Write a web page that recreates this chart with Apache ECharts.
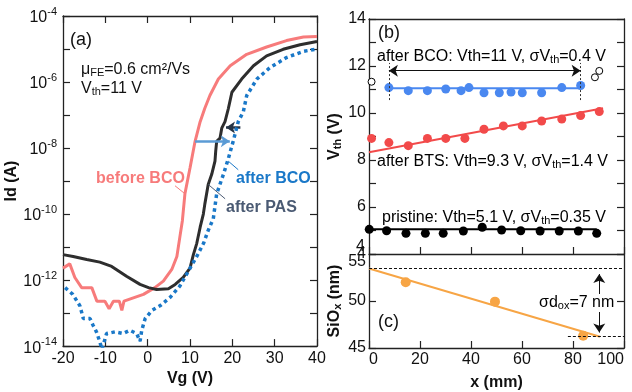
<!DOCTYPE html>
<html><head><meta charset="utf-8">
<script src="https://cdn.jsdelivr.net/npm/echarts@6/dist/echarts.min.js"></script>
<style>html,body{margin:0;padding:0;background:#fff}#c{width:632px;height:392px}</style>
</head><body><div id="c"></div>
<script>
// ---------- Panel (a): transfer curves ----------
const vgBefore = [-20,-18.4,-17.2,-15.6,-13.2,-12.0,-10.1,-9.1,-8.1,-6.7,-6.1,-5.6,-1.0,1.7,3.7,5.7,6.9,7.6,8.2,8.8,10.0,11.2,12.4,13.5,14.7,16.7,19.5,23.4,28.1,32.8,36.8,40];
const idBefore = [2.3e-12,3.1e-12,1.2e-12,5.9e-13,5.9e-13,2.3e-13,2.3e-13,1.35e-13,2.3e-13,2.3e-13,1.2e-13,2.3e-13,3.7e-13,5.9e-13,9.3e-13,2.1e-12,5.2e-12,2.0e-11,6.3e-11,4.1e-10,2.5e-9,1.6e-8,6.3e-8,1.6e-7,3.9e-7,1.23e-6,3.1e-6,6.9e-6,1.15e-5,1.8e-5,2.3e-5,2.4e-5];
const vgPas = [-20,-17.6,-14.4,-11.3,-8.5,-5.0,-1.8,0.2,2.1,4.9,6.5,8.4,10.0,10.8,11.6,12.4,13.15,13.5,14.3,15.13,15.9,16.07,16.3,17.1,17.5,18.27,19.05,19.9,22.2,25.0,28.1,32.0,36.0,40];
const idPas = [5.9e-12,5.2e-12,4.2e-12,3.5e-12,2.6e-12,1.3e-12,7.4e-13,5.9e-13,5.2e-13,5.5e-13,7.4e-13,1.2e-12,2.3e-12,5.9e-12,1.3e-11,4.0e-11,1.0e-10,2.0e-10,7.9e-10,1.6e-9,4.0e-9,7.9e-9,1.6e-8,2.0e-8,4.0e-8,6.3e-8,1.55e-7,4.9e-7,1.23e-6,3.1e-6,6.2e-6,9.8e-6,1.35e-5,1.7e-5];
const vgBco = [-19.5,-17.7,-16.0,-15.2,-13.6,-12.9,-12.1,-11.3,-10.8,-9.7,-7.7,-5.8,-4.2,-2.6,-1.8,-1.4,-0.6,1.0,2.9,5.3,7.6,9.6,11.6,13.2,14.3,15.5,16.3,17.9,19.1,20.2,21.4,22.6,23.4,25.8,28.9,32.8,36.8,40];
const idBco = [5.9e-13,3.7e-13,1.66e-13,6.8e-14,6.8e-14,4.3e-14,2.7e-14,1.35e-14,8e-15,2.4e-14,2.7e-14,2.4e-14,3.0e-14,2.4e-14,1.4e-14,3.0e-14,6.8e-14,1.2e-13,1.66e-13,3.0e-13,6.6e-13,1.86e-12,5.2e-12,1.3e-11,3.2e-11,7.2e-11,4.1e-10,1.6e-9,5.0e-9,1.6e-8,6.3e-8,1.26e-7,3.9e-7,1.23e-6,2.75e-6,5.5e-6,8.5e-6,1.0e-5];
// annotation coordinates (Vg, Id)
const arrowBco = [[11.2,1.6e-8],[19.4,1.6e-8]];
const arrowPas = [[21.9,4.2e-8],[18.5,4.2e-8]];
const leadBefore = [[6.46,7.2e-10],[8.82,4.1e-10]];
const leadBco = [[19.05,4.0e-9],[21.4,2.2e-9]];
const leadPas = [[14.3,7.9e-10],[18.3,2.9e-10]];
const yTickExp = [-14,-12,-10,-8,-6,-4];

// ---------- Panel (b): Vth vs x ----------
const xBcoPts = [7.8,15.4,22.9,30.1,36.1,39.2,45.1,51.1,55.7,60.1,67.7,75.6,83.0];
const vthBco = [11.08,10.95,10.95,11.02,10.95,11.08,10.86,10.86,10.89,10.86,10.86,11.08,11.17];
const xBts = [1.0,7.8,15.4,22.9,30.1,37.6,45.1,52.7,60.1,67.7,75.6,83.0,90.3];
const vthBts = [8.92,8.74,8.61,8.92,8.92,8.92,9.31,9.45,9.45,9.66,9.74,9.89,10.06];
const xPristine = [0.1,6.9,14.5,22.1,29.1,37.0,44.4,52.0,59.5,67.1,74.6,82.1,89.3];
const vthPristine = [5.05,4.99,4.88,4.88,4.88,4.98,5.14,5.02,4.99,4.98,4.98,4.98,4.88];
const fitBcoX = [7.8,83], fitBcoY = [11.05,11.05];
const fitBtsX = [0,91.8], fitBtsY = [8.33,10.2];
const fitPristineX = [0,89.3], fitPristineY = [5.05,5.05];
const openX = [1.0,88.6,90.3], openY = [11.33,11.52,11.79];
const spanX = [7.8,83], spanY = [10.55,12.13], spanArrowY = 11.8;
const vthMinLabel = '4';

// ---------- Panel (c): SiOx vs x ----------
const xSiox = [14.4,49.4,84.0];
const siox = [52.0,49.93,46.31];
const fitSioxX = [0,90.6], fitSioxY = [53.45,46.2];
const sioxTop = 53.45, sioxBottom = 46.2, sioxBottomStart = 78, sioxArrowX = 90.3, sioxArrowY = [52.86,46.65];

const F = 'Liberation Sans, Arial, sans-serif';
const pairs = (xs, ys) => xs.map((x, i) => [x, ys[i]]);
const C = {salmon:'#f77b7b', blue:'#1a78c8', dark:'#2e2e2e', pas:'#4a5a73', bBlue:'#4a88f0', bRed:'#f24a4a', orange:'#f7a545'};

const tickIn = (len) => ({show:true, inside:true, length:len||7, lineStyle:{color:'#222', width:1.2}});
const lineAx = {show:true, onZero:false, lineStyle:{color:'#222', width:1.3}};
const ml = (data, color, width, symbols, type) => ({
  silent:true, animation:false, symbol:symbols||['none','none'], symbolSize:[9,9],
  label:{show:false}, lineStyle:{color:color, width:width, type:type||'solid'},
  emphasis:{disabled:true}, data:data
});

const chart = echarts.init(document.getElementById('c'), null, {renderer:'canvas'});
const option = {
  animation:false,
  textStyle:{fontFamily:F},
  grid:[
    {left:63, top:16, width:254, height:335},
    {left:369, top:19, width:255, height:235},
    {left:369, top:254, width:255, height:97}
  ],
  xAxis:[
    {gridIndex:0, type:'value', min:-20, max:40, interval:10, position:'bottom',
     axisLine:lineAx, axisTick:tickIn(), splitLine:{show:false},
     axisLabel:{fontSize:16, color:'#111', margin:4, fontFamily:F},
     name:'Vg (V)', nameLocation:'middle', nameGap:22, nameTextStyle:{fontSize:16, fontWeight:'bold', color:'#111', fontFamily:F}},
    {gridIndex:0, type:'value', min:-20, max:40, interval:10, position:'top',
     axisLine:lineAx, axisTick:tickIn(), axisLabel:{show:false}, splitLine:{show:false}},
    {gridIndex:1, type:'value', min:0, max:100, interval:20, position:'bottom',
     axisLine:lineAx, axisTick:tickIn(), axisLabel:{show:false}, splitLine:{show:false}},
    {gridIndex:1, type:'value', min:0, max:100, interval:20, position:'top',
     axisLine:lineAx, axisTick:{show:false}, axisLabel:{show:false}, splitLine:{show:false}},
    {gridIndex:2, type:'value', min:0, max:100, interval:20, position:'bottom',
     axisLine:lineAx, axisTick:tickIn(), splitLine:{show:false},
     axisLabel:{fontSize:16, color:'#111', margin:4, fontFamily:F, alignMinLabel:'left', alignMaxLabel:'right'},
     name:'x (mm)', nameLocation:'middle', nameGap:27, nameTextStyle:{fontSize:16, fontWeight:'bold', color:'#111', fontFamily:F}}
  ],
  yAxis:[
    {gridIndex:0, type:'log', logBase:10, min:1e-14, max:1e-4, interval:1, position:'left',
     axisLine:lineAx, axisTick:tickIn(), splitLine:{show:false}, minorTick:{show:false},
     axisLabel:{margin:6, color:'#111', fontFamily:F, showMinLabel:true, showMaxLabel:true,
       formatter:function(v){ const e = Math.round(Math.log10(v)); return yTickExp.indexOf(e) >= 0 ? '{b|10}{s|' + e + '}' : ''; },
       rich:{b:{fontSize:16, lineHeight:20, color:'#111', fontFamily:F, verticalAlign:'bottom'}, s:{fontSize:11, lineHeight:11, color:'#111', fontFamily:F, verticalAlign:'top'}}},
     name:'Id (A)', nameLocation:'middle', nameRotate:90, nameGap:27, nameTextStyle:{fontSize:16, fontWeight:'bold', color:'#111', fontFamily:F}},
    {gridIndex:0, type:'log', logBase:10, min:1e-14, max:1e-4, interval:1, position:'right',
     axisLine:lineAx, axisTick:tickIn(), axisLabel:{show:false}, splitLine:{show:false}},
    {gridIndex:1, type:'value', min:4, max:14, interval:2, position:'left',
     axisLine:lineAx, axisTick:tickIn(), splitLine:{show:false},
     minorTick:{show:true, splitNumber:2, length:7, lineStyle:{color:'#222', width:1.2}},
     axisLabel:{fontSize:16, color:'#111', margin:3, fontFamily:F, showMaxLabel:true},
     name:'{v|V}{s|th}{v| (V)}', nameLocation:'middle', nameRotate:90, nameGap:26,
     nameTextStyle:{fontSize:16, fontWeight:'bold', color:'#111', fontFamily:F,
       rich:{v:{fontSize:16, fontWeight:'bold', fontFamily:F, color:'#111'}, s:{fontSize:11, fontWeight:'bold', fontFamily:F, color:'#111', verticalAlign:'bottom', lineHeight:10}}}},
    {gridIndex:1, type:'value', min:4, max:14, interval:2, position:'right',
     axisLine:lineAx, axisTick:tickIn(), axisLabel:{show:false}, splitLine:{show:false},
     minorTick:{show:true, splitNumber:2, length:7, lineStyle:{color:'#222', width:1.2}}},
    {gridIndex:2, type:'value', min:45, max:55, interval:5, position:'left',
     axisLine:lineAx, axisTick:tickIn(), splitLine:{show:false},
     axisLabel:{fontSize:16, color:'#111', margin:3, fontFamily:F, showMaxLabel:true, verticalAlignMaxLabel:'top'},
     name:'{v|SiO}{s|x}{v| (nm)}', nameLocation:'middle', nameRotate:90, nameGap:26,
     nameTextStyle:{fontSize:16, fontWeight:'bold', color:'#111', fontFamily:F,
       rich:{v:{fontSize:16, fontWeight:'bold', fontFamily:F, color:'#111'}, s:{fontSize:11, fontWeight:'bold', fontFamily:F, color:'#111', verticalAlign:'bottom', lineHeight:10}}}},
    {gridIndex:2, type:'value', min:45, max:55, interval:5, position:'right',
     axisLine:lineAx, axisTick:tickIn(), axisLabel:{show:false}, splitLine:{show:false}}
  ],
  series:[
    // panel a
    {type:'line', name:'before BCO', xAxisIndex:0, yAxisIndex:0, data:pairs(vgBefore, idBefore), showSymbol:false, clip:true,
     lineStyle:{color:C.salmon, width:3}, z:3,
     markLine: ml([[{coord:leadBefore[0]},{coord:leadBefore[1]}]], C.salmon, 1)},
    {type:'line', name:'after PAS', xAxisIndex:0, yAxisIndex:0, data:pairs(vgPas, idPas), showSymbol:false, clip:true,
     lineStyle:{color:C.dark, width:3}, z:4,
     markLine: ml([[{coord:leadPas[0]},{coord:leadPas[1]}]], C.pas, 1)},
    {type:'line', name:'after BCO', xAxisIndex:0, yAxisIndex:0, data:pairs(vgBco, idBco), showSymbol:false, clip:true,
     lineStyle:{color:C.blue, width:3.5, type:[3.5,3.5], cap:'butt'}, z:5,
     markLine: ml([[{coord:leadBco[0]},{coord:leadBco[1]}]], C.blue, 1)},
    {type:'line', xAxisIndex:0, yAxisIndex:0, data:[], z:6,
     markLine: ml([[{coord:arrowBco[0]},{coord:arrowBco[1]}]], '#5b9bd5', 2.5, ['none','arrow'])},
    {type:'line', xAxisIndex:0, yAxisIndex:0, data:[], z:6,
     markLine: ml([[{coord:arrowPas[0]},{coord:arrowPas[1]}]], '#263445', 2.5, ['none','arrow'])},
    // panel b
    {type:'line', xAxisIndex:2, yAxisIndex:2, data:pairs(fitBcoX, fitBcoY), showSymbol:false, lineStyle:{color:C.bBlue, width:2}, z:2,
     markLine: ml([
       [{coord:[spanX[0], spanY[0]]},{coord:[spanX[0], spanY[1]]}],
       [{coord:[spanX[1], spanY[0]]},{coord:[spanX[1], spanY[1]]}]
     ], '#333', 1, ['none','none'], [2,2])},
    {type:'line', xAxisIndex:2, yAxisIndex:2, data:[], z:3,
     markLine: ml([[{coord:[spanX[0], spanArrowY]},{coord:[spanX[1], spanArrowY]}]], '#111', 1, ['arrow','arrow'])},
    {type:'line', xAxisIndex:2, yAxisIndex:2, data:pairs(fitBtsX, fitBtsY), showSymbol:false, lineStyle:{color:C.bRed, width:2}, z:2},
    {type:'line', xAxisIndex:2, yAxisIndex:2, data:pairs(fitPristineX, fitPristineY), showSymbol:false, lineStyle:{color:'#000', width:2}, z:2},
    {type:'scatter', xAxisIndex:2, yAxisIndex:2, data:pairs(xBcoPts, vthBco), symbolSize:9, itemStyle:{color:C.bBlue, opacity:1}, z:4},
    {type:'scatter', xAxisIndex:2, yAxisIndex:2, data:pairs(xBts, vthBts), symbolSize:9, itemStyle:{color:C.bRed, opacity:1}, z:4},
    {type:'scatter', xAxisIndex:2, yAxisIndex:2, data:pairs(xPristine, vthPristine), symbolSize:9, itemStyle:{color:'#000', opacity:1}, z:4},
    {type:'scatter', xAxisIndex:2, yAxisIndex:2, data:pairs(openX, openY), symbolSize:7, itemStyle:{color:'#fff', borderColor:'#000', borderWidth:1, opacity:1}, z:4},
    // panel c
    {type:'line', xAxisIndex:4, yAxisIndex:4, data:pairs(fitSioxX, fitSioxY), showSymbol:false, lineStyle:{color:C.orange, width:2}, z:2,
     markLine: ml([
       [{coord:[0, sioxTop]},{coord:[100, sioxTop]}],
       [{coord:[sioxBottomStart, sioxBottom]},{coord:[100, sioxBottom]}]
     ], '#111', 1, ['none','none'], [3,2])},
    {type:'line', xAxisIndex:4, yAxisIndex:4, data:[], z:3,
     markLine: ml([[{coord:[sioxArrowX, sioxArrowY[0]]},{coord:[sioxArrowX, sioxArrowY[1]]}]], '#111', 1, ['arrow','arrow'])},
    {type:'scatter', xAxisIndex:4, yAxisIndex:4, data:pairs(xSiox, siox), symbolSize:10, itemStyle:{color:C.orange, opacity:1}, z:4}
  ],
  graphic:[
    {type:'text', left:356, top:239, z:100, zlevel:0, style:{text:vthMinLabel, font:'16px '+F, fill:'#111'}},
    {type:'text', x:70, y:40, z:10, style:{text:'(a)', font:'18px '+F, fill:'#111', verticalAlign:'middle'}},
    {type:'text', x:81, y:70, z:10, style:{text:'{n|μ}{s|FE}{n|=0.6 cm²/Vs}', verticalAlign:'middle', fill:'#111',
      rich:{n:{fontSize:16, fontFamily:F, fill:'#111', color:'#111'}, s:{fontSize:11, fontFamily:F, color:'#111', verticalAlign:'bottom', lineHeight:10}}}},
    {type:'text', x:81, y:89, z:10, style:{text:'{n|V}{s|th}{n|=11 V}', verticalAlign:'middle', fill:'#111',
      rich:{n:{fontSize:16, fontFamily:F, color:'#111'}, s:{fontSize:11, fontFamily:F, color:'#111', verticalAlign:'bottom', lineHeight:10}}}},
    {type:'text', x:96, y:179, z:10, style:{text:'before BCO', font:'bold 16px '+F, fill:C.salmon, verticalAlign:'middle'}},
    {type:'text', x:236, y:179, z:10, style:{text:'after BCO', font:'bold 16px '+F, fill:C.blue, verticalAlign:'middle'}},
    {type:'text', x:226, y:208, z:10, style:{text:'after PAS', font:'bold 16px '+F, fill:C.pas, verticalAlign:'middle'}},
    {type:'text', x:378, y:33, z:10, style:{text:'(b)', font:'18px '+F, fill:'#111', verticalAlign:'middle'}},
    {type:'text', x:377, y:57, z:10, style:{text:'{n|after BCO: Vth=11 V, σV}{s|th}{n|=0.4 V}', verticalAlign:'middle',
      rich:{n:{fontSize:16, fontFamily:F, color:C.bBlue}, s:{fontSize:11, fontFamily:F, color:C.bBlue, verticalAlign:'bottom', lineHeight:10}}}},
    {type:'text', x:377, y:162, z:10, style:{text:'{n|after BTS: Vth=9.3 V, σV}{s|th}{n|=1.4 V}', verticalAlign:'middle',
      rich:{n:{fontSize:16, fontFamily:F, color:C.bRed}, s:{fontSize:11, fontFamily:F, color:C.bRed, verticalAlign:'bottom', lineHeight:10}}}},
    {type:'text', x:382, y:218, z:10, style:{text:'{n|pristine: Vth=5.1 V, σV}{s|th}{n|=0.35 V}', verticalAlign:'middle',
      rich:{n:{fontSize:16, fontFamily:F, color:'#111'}, s:{fontSize:11, fontFamily:F, color:'#111', verticalAlign:'bottom', lineHeight:10}}}},
    {type:'text', x:378, y:322, z:10, style:{text:'(c)', font:'18px '+F, fill:'#111', verticalAlign:'middle'}},
    {type:'text', x:538, y:303, z:10, style:{text:'{n|σd}{s|ox}{n|=7 nm}', verticalAlign:'middle', backgroundColor:'#fff', padding:[1,1],
      rich:{n:{fontSize:16, fontFamily:F, color:'#111'}, s:{fontSize:11, fontFamily:F, color:'#111', verticalAlign:'bottom', lineHeight:10}}}}
  ]
};
chart.setOption(option);
</script></body></html>
